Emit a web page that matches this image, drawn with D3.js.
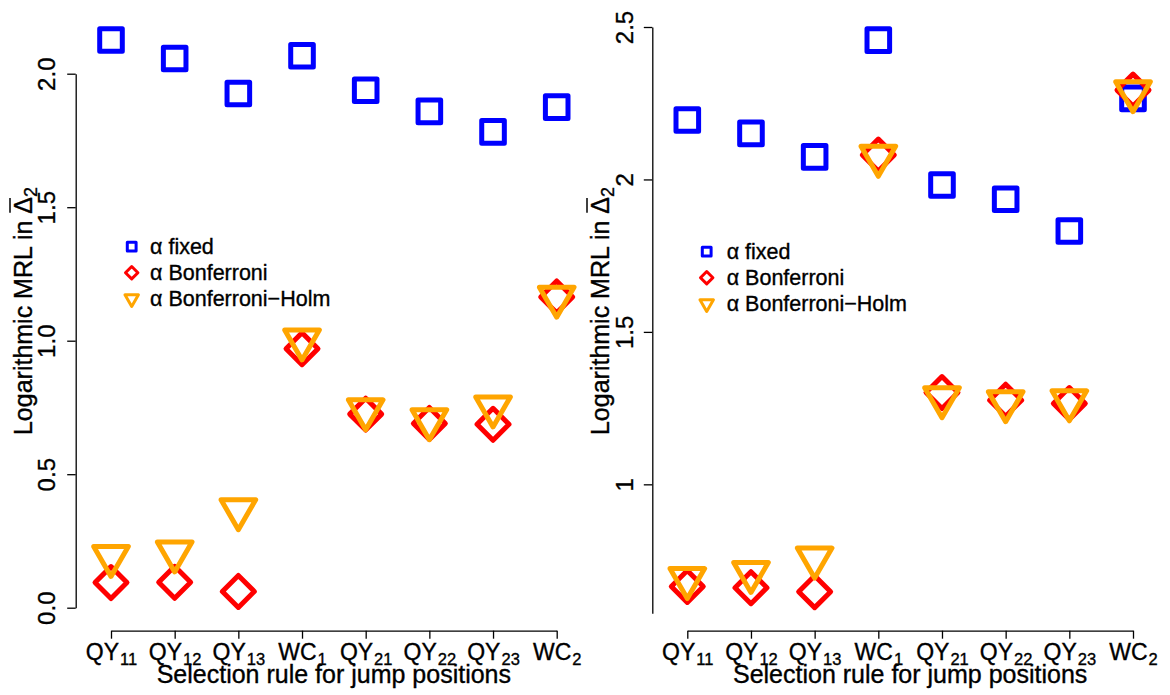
<!DOCTYPE html>
<html>
<head>
<meta charset="utf-8">
<script src="https://cdn.jsdelivr.net/npm/d3@7"></script>
<style>
  html, body { margin: 0; padding: 0; background: #fff; }
  svg { display: block; font-family: "Liberation Sans", Arial, Helvetica, sans-serif; }
  svg text { stroke: #000; stroke-width: 0.35px; fill: #000; }
</style>
</head>
<body>
<svg id="chart" width="1170" height="695"></svg>
<script>
// Selection rules on the x axis (base name + subscript)
const catBase = ["QY", "QY", "QY", "WC", "QY", "QY", "QY", "WC"];
const catSub  = ["11", "12", "13", "1", "21", "22", "23", "2"];
const catIndex = [1, 2, 3, 4, 5, 6, 7, 8];

// Left panel: logarithmic MRL per selection rule
const leftFixed = [2.126, 2.057, 1.926, 2.067, 1.938, 1.859, 1.782, 1.875];
const leftBonf  = [0.094, 0.095, 0.061, 0.970, 0.725, 0.690, 0.687, 1.164];
const leftHolm  = [0.192, 0.209, 0.367, 1.003, 0.741, 0.704, 0.752, 1.163];

// Right panel
const rightFixed = [2.195, 2.151, 2.074, 2.457, 1.982, 1.935, 1.831, 2.266];
const rightBonf  = [0.665, 0.661, 0.648, 2.080, 1.301, 1.276, 1.265, 2.293];
const rightHolm  = [0.691, 0.711, 0.758, 2.076, 1.284, 1.271, 1.274, 2.288];

// Y axis ticks
const leftTicks = [0, 0.5, 1, 1.5, 2];
const leftTickLabels = ["0.0", "0.5", "1.0", "1.5", "2.0"];
const rightTicks = [1, 1.5, 2, 2.5];
const rightTickLabels = ["1", "1.5", "2", "2.5"];

// Legend
const legendLabels = ["\u03B1 fixed", "\u03B1 Bonferroni", "\u03B1 Bonferroni\u2212Holm"];
const seriesColors = ["#0000ff", "#ff0000", "#ffa500"];
const seriesShapes = ["square", "diamond", "triangle"];

const xTitle = "Selection rule for jump positions";

const svg = d3.select("#chart");

// marker outlines (R-style pch 0, 5, 6)
function shapePath(shape, cx, cy, s) {
  if (shape === "square") {
    const h = s;
    return `M${cx - h},${cy - h}H${cx + h}V${cy + h}H${cx - h}Z`;
  }
  if (shape === "diamond") {
    const d = s * Math.SQRT2;
    return `M${cx},${cy - d}L${cx + d},${cy}L${cx},${cy + d}L${cx - d},${cy}Z`;
  }
  const r = s * 1.77;
  return `M${cx},${cy + r}L${cx + 0.866 * r},${cy - 0.5 * r}L${cx - 0.866 * r},${cy - 0.5 * r}Z`;
}

const panels = [
  {
    series: [leftFixed, leftBonf, leftHolm],
    ticks: leftTicks, tickLabels: leftTickLabels,
    xRange: [111, 556.7], yDomain: [0, 2], yRange: [607.7, 73.7],
    axisX: 75.7, axisY: 630.7, tickBase: 55, titleX: 32, titleY: 311,
    legX: 131.7, legY: 246.7, legTextX: 150
  },
  {
    series: [rightFixed, rightBonf, rightHolm],
    ticks: rightTicks, tickLabels: rightTickLabels,
    xRange: [687.3, 1133], yDomain: [0.577, 2.5], yRange: [613.3, 27],
    axisX: 652.3, axisY: 630.7, tickBase: 633, titleX: 609, titleY: 311,
    legX: 706.7, legY: 251.7, legTextX: 726.7
  }
];

panels.forEach(p => {
  const x = d3.scaleLinear().domain([1, 8]).range(p.xRange);
  const y = d3.scaleLinear().domain(p.yDomain).range(p.yRange);
  const g = svg.append("g");

  // y axis
  const yAxis = g.append("g")
    .attr("transform", `translate(${p.axisX},0)`)
    .call(d3.axisLeft(y).tickValues(p.ticks).tickSize(8.5).tickSizeOuter(0)
      .tickFormat((d, i) => p.tickLabels[i]));
  yAxis.select(".domain").attr("stroke", "#000").attr("stroke-width", 1.3);
  yAxis.selectAll(".tick line").attr("stroke", "#000").attr("stroke-width", 1.3);
  yAxis.selectAll(".tick text")
    .attr("transform", "rotate(-90)")
    .attr("x", 0)
    .attr("y", p.tickBase - p.axisX)
    .attr("dy", 0)
    .attr("text-anchor", "middle")
    .style("font-size", "24px")
    .style("font-family", "Liberation Sans, Arial, sans-serif");

  // x axis
  const xAxis = g.append("g")
    .attr("transform", `translate(0,${p.axisY})`)
    .call(d3.axisBottom(x).tickValues(catIndex).tickSize(8).tickSizeOuter(0).tickFormat(""));
  xAxis.select(".domain").attr("stroke", "#000").attr("stroke-width", 1.3);
  xAxis.selectAll(".tick line").attr("stroke", "#000").attr("stroke-width", 1.3);
  xAxis.selectAll(".tick text").remove();
  xAxis.selectAll(".tick").each(function(d, i) {
    const t = d3.select(this).append("text")
      .attr("y", 660 - p.axisY)
      .attr("text-anchor", "middle")
      .style("font-size", "23px")
      .style("font-family", "Liberation Sans, Arial, sans-serif");
    t.append("tspan").text(catBase[i]);
    t.append("tspan").attr("dy", 5).attr("dx", 1).style("font-size", "16.5px").text(catSub[i]);
  });

  // axis titles
  g.append("text")
    .attr("x", (p.xRange[0] + p.xRange[1]) / 2)
    .attr("y", 683)
    .attr("text-anchor", "middle")
    .style("font-size", "25px")
    .text(xTitle);

  const tg = g.append("g").attr("transform", `translate(${p.titleX},${p.titleY}) rotate(-90)`);
  const tt = tg.append("text").attr("text-anchor", "middle").style("font-size", "25px");
  tt.append("tspan").text("Logarithmic MRL in ");
  tt.append("tspan").text("\u0394");
  tt.append("tspan").attr("dy", 5).style("font-size", "18px").text("2");
  // bar over the Delta
  const nChars = "Logarithmic MRL in ".length;
  const ext = tt.node().getExtentOfChar(nChars);
  tg.append("line")
    .attr("x1", ext.x + 1).attr("x2", ext.x + ext.width - 1)
    .attr("y1", -22).attr("y2", -22)
    .attr("stroke", "#000").attr("stroke-width", 1.5);

  // points: fixed, Bonferroni, Bonferroni-Holm
  p.series.forEach((vals, si) => {
    g.append("g").selectAll("path")
      .data(vals)
      .join("path")
      .attr("d", (v, i) => shapePath(seriesShapes[si], x(catIndex[i]), y(v), 11.3))
      .attr("fill", "none")
      .attr("stroke", seriesColors[si])
      .attr("stroke-width", 5)
      .attr("stroke-linejoin", "round");
  });

  // legend
  const lg = g.append("g");
  legendLabels.forEach((lab, i) => {
    const cy = p.legY + i * 26;
    lg.append("path")
      .attr("d", shapePath(seriesShapes[i], p.legX, cy, 4.4))
      .attr("fill", "none")
      .attr("stroke", seriesColors[i])
      .attr("stroke-width", 3)
      .attr("stroke-linejoin", "round");
    lg.append("text")
      .attr("x", p.legTextX)
      .attr("y", cy + 7.6)
      .style("font-size", "21.5px")
      .text(lab);
  });
});
</script>
</body>
</html>
